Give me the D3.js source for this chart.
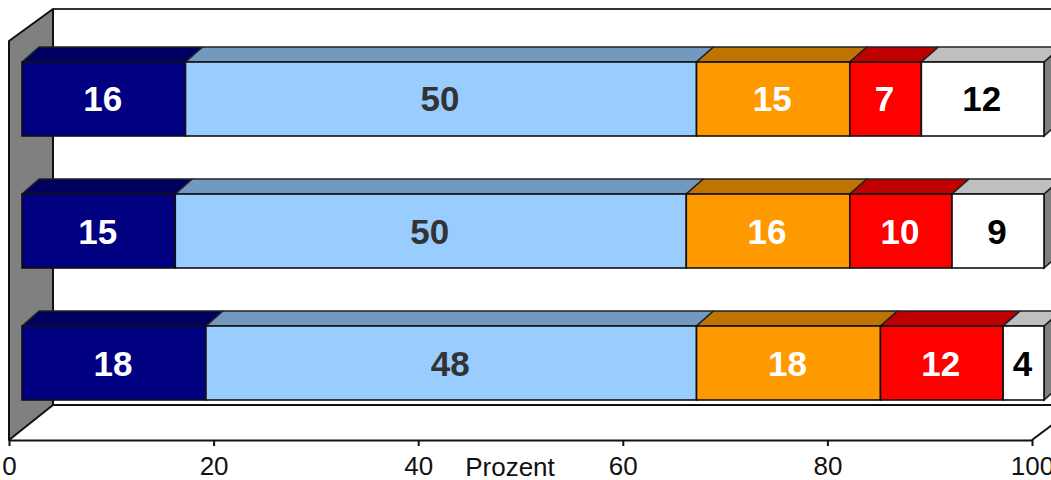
<!DOCTYPE html>
<html><head><meta charset="utf-8">
<script src="https://cdnjs.cloudflare.com/ajax/libs/d3/7.8.5/d3.min.js"></script>
<style>html,body{margin:0;padding:0;background:#fff;overflow:hidden}svg{display:block}text{font-family:"Liberation Sans",Arial,sans-serif}</style>
</head><body><svg id="c" width="1051" height="480"></svg>
<script>
const categories = ["top", "middle", "bottom"];
const seriesNames = ["a", "b", "c", "d", "e"];
const seriesA = [16, 15, 18];
const seriesB = [50, 50, 48];
const seriesC = [15, 16, 18];
const seriesD = [7, 10, 12];
const seriesE = [12, 9, 4];
const seriesValues = [seriesA, seriesB, seriesC, seriesD, seriesE];
const frontColors = ["#000080", "#99CCFF", "#FF9900", "#FF0000", "#FFFFFF"];
const topColors = ["#000060", "#7399BF", "#BF7300", "#BF0000", "#BFBFBF"];
const labelColors = ["#FFFFFF", "#333333", "#FFFFFF", "#FFFFFF", "#000000"];
const axisTicks = [0, 20, 40, 60, 80, 100];
const axisTitle = "Prozent";

const svg = d3.select("#c");
const xAxisScale = d3.scaleLinear().domain([0, 100]).range([9, 1032]);
const xBar = d3.scaleLinear().domain([0, 100]).range([22, 1044]);
const yBand = d3.scaleBand().domain(categories).range([62, 400]).paddingInner(0.4394).paddingOuter(0);
const wallDx = 44, wallDy = -33, barDx = 17, barDy = -15;
const pts = p => p.map(d => d.join(",")).join(" ");

// back wall and floor edges
const wallTop = 9, floorY = 440;
const x0 = xAxisScale(0), x1 = xAxisScale(100);
svg.append("line").attr("x1", x0 + wallDx).attr("x2", 1051 + 5).attr("y1", wallTop).attr("y2", wallTop).attr("stroke", "#333").attr("stroke-width", 2);
svg.append("line").attr("x1", x0 + wallDx).attr("x2", 1051 + 5).attr("y1", floorY + wallDy - 2).attr("y2", floorY + wallDy - 2).attr("stroke", "#111").attr("stroke-width", 2);
svg.append("polygon")
  .attr("points", pts([[x0, wallTop + 32], [x0 + wallDx, wallTop], [x0 + wallDx, floorY + wallDy - 2], [x0, floorY]]))
  .attr("fill", "#808080").attr("stroke", "#111").attr("stroke-width", 2).attr("stroke-linejoin", "round");
svg.append("line").attr("x1", x1).attr("y1", floorY).attr("x2", x1 + wallDx).attr("y2", floorY + wallDy).attr("stroke", "#111").attr("stroke-width", 2);

// axis
const axis = d3.axisBottom(xAxisScale).tickValues(axisTicks).tickSize(6).tickPadding(11).tickSizeOuter(0);
const ag = svg.append("g").attr("transform", `translate(0,${floorY})`).call(axis);
ag.select(".domain").attr("stroke", "#111").attr("stroke-width", 2);
ag.selectAll(".tick line").attr("stroke", "#111").attr("stroke-width", 2);
ag.selectAll("text").attr("font-size", 26).attr("fill", "#111").attr("font-family", "Liberation Sans");
svg.append("text").attr("x", 510).attr("y", 476).attr("text-anchor", "middle").attr("font-size", 26).attr("fill", "#111").text(axisTitle);

// bars
categories.forEach((cat, i) => {
  const y = yBand(cat), h = yBand.bandwidth();
  const g = svg.append("g");
  let cum = 0;
  const stack = seriesValues.map((s, k) => { const d = { k, v: s[i], a: cum, b: cum + s[i] }; cum += s[i]; return d; });
  const end = xBar(cum);
  g.append("polygon").attr("points", pts([[end, y], [end + barDx, y + barDy], [end + barDx, y + h + barDy], [end, y + h]]))
    .attr("fill", "#808080").attr("stroke", "#222").attr("stroke-width", 1.6);
  g.selectAll(".top").data(stack).join("polygon").attr("class", "top")
    .attr("points", d => pts([[xBar(d.a), y], [xBar(d.a) + barDx, y + barDy], [xBar(d.b) + barDx, y + barDy], [xBar(d.b), y]]))
    .attr("fill", d => topColors[d.k]).attr("stroke", "#222").attr("stroke-width", 1.6).attr("stroke-linejoin", "round");
  g.selectAll(".front").data(stack).join("rect").attr("class", "front")
    .attr("x", d => xBar(d.a)).attr("y", y).attr("width", d => xBar(d.b) - xBar(d.a)).attr("height", h)
    .attr("fill", d => frontColors[d.k]).attr("stroke", "#111").attr("stroke-width", 1.6);
  g.selectAll(".lab").data(stack).join("text").attr("class", "lab")
    .attr("x", d => (xBar(d.a) + xBar(d.b)) / 2 - 1).attr("y", y + h / 2 + 12.5)
    .attr("text-anchor", "middle").attr("font-size", 35).attr("font-weight", "bold")
    .attr("fill", d => labelColors[d.k]).text(d => d.v);
});
</script></body></html>
